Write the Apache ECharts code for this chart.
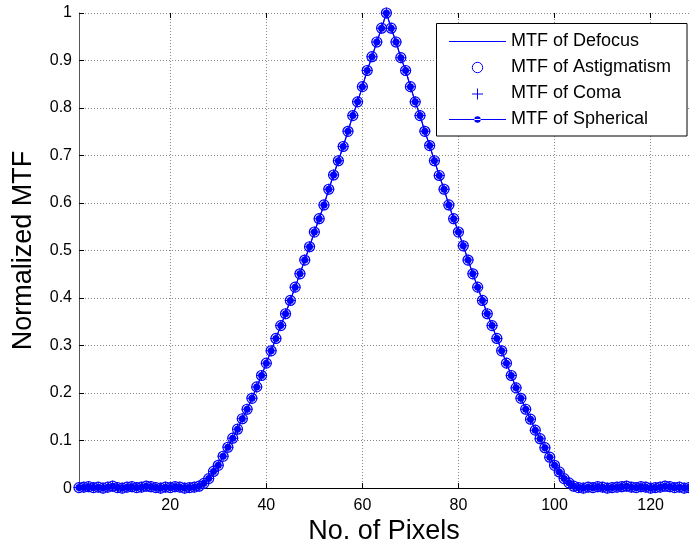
<!DOCTYPE html>
<html>
<head>
<meta charset="utf-8">
<script src="https://cdn.jsdelivr.net/npm/echarts@6/dist/echarts.min.js"></script>
<style>
  html, body { margin: 0; padding: 0; background: #fff; }
  #chart { width: 689px; height: 550px; }
</style>
</head>
<body>
<div id="chart"></div>
<script>
// normalized MTF per pixel (1..128)
const mtfDefocus = [
  0.001, 0.002, 0.003, 0.001, 0.002, 0.000, 0.002, 0.004, 0.001, 0.000,
  0.002, 0.003, 0.001, 0.002, 0.004, 0.003, 0.001, 0.000, 0.002, 0.001,
  0.003, 0.002, 0.000, 0.001, 0.002,
  0.004, 0.010, 0.020, 0.035, 0.048, 0.067, 0.086, 0.105, 0.124, 0.146,
  0.166, 0.189, 0.213, 0.237, 0.263, 0.289, 0.315, 0.342, 0.367, 0.395,
  0.423, 0.451, 0.480, 0.508, 0.539, 0.567, 0.596, 0.629, 0.659, 0.689,
  0.719, 0.751, 0.784, 0.813, 0.845, 0.879, 0.908, 0.939, 0.968, 1.000,
  0.968, 0.939, 0.906, 0.879, 0.845, 0.813, 0.784, 0.751, 0.721, 0.689,
  0.658, 0.629, 0.596, 0.567, 0.539, 0.510, 0.480, 0.451, 0.423, 0.395,
  0.367, 0.342, 0.315, 0.289, 0.263, 0.237, 0.211, 0.189, 0.166, 0.145,
  0.122, 0.104, 0.085, 0.065, 0.048, 0.034, 0.020, 0.011, 0.004,
  0.001, 0.000, 0.002, 0.001, 0.003, 0.002, 0.000, 0.001, 0.002, 0.003,
  0.004, 0.002, 0.001, 0.003, 0.002, 0.000, 0.001, 0.002, 0.004, 0.003,
  0.001, 0.002, 0.000, 0.001
];
// the other three curves coincide with defocus in the figure
const mtfAstigmatism = mtfDefocus.slice();
const mtfComa = mtfDefocus.slice();
const mtfSpherical = mtfDefocus.slice();

const pixels = mtfDefocus.map((_, i) => i + 1);
const xTicks = [20, 40, 60, 80, 100, 120];
const seriesNames = ['MTF of Defocus', 'MTF of Astigmatism', 'MTF of Coma', 'MTF of Spherical'];

const BLUE = '#0000ff';
const FONT = '"Liberation Sans", Arial, sans-serif';
const PLUS = 'path://M5,0h1v5h5v1h-5v5h-1v-5h-5v-1h5z';
// legend glyphs, the leading moves pin each box to 57x13
const LINE_ICON = 'path://M0,0M57,13M0,6h57v1h-57z';
const LINE_DOT = 'path://M0,0M57,13M0,6h57v1h-57zM25.3,6.5a3.2,3.2 0 1 0 6.4,0a3.2,3.2 0 1 0 -6.4,0z';
const PLUS_ICON = 'path://M0,0M57,13M28,1.5h1v5h5v1h-5v5h-1v-5h-5v-1h5z';

const pairs = vals => pixels.map((p, i) => [p, vals[i]]);

const chart = echarts.init(document.getElementById('chart'));

chart.setOption({
  backgroundColor: '#fff',
  animation: false,
  grid: { left: 79, right: 0, top: 13, bottom: 57 },
  legend: {
    orient: 'vertical',
    left: 436.5,
    top: 23.5,
    padding: [9, 16, 7.5, 11.5],
    itemGap: 8,
    itemWidth: 57,
    itemHeight: 13,
    backgroundColor: '#fff',
    borderColor: '#000',
    borderWidth: 1,
    textStyle: { fontFamily: FONT, fontSize: 18, lineHeight: 18, color: '#000' },
    data: [
      { name: seriesNames[0], icon: LINE_ICON, itemStyle: { color: BLUE } },
      { name: seriesNames[1], itemStyle: { color: 'transparent', borderColor: BLUE, borderWidth: 1 } },
      { name: seriesNames[2], icon: PLUS_ICON, itemStyle: { color: BLUE } },
      { name: seriesNames[3], icon: LINE_DOT, itemStyle: { color: BLUE } }
    ]
  },
  xAxis: [
    {
      type: 'value',
      min: 1,
      max: 128,
      name: 'No. of Pixels',
      nameLocation: 'middle',
      nameGap: 28,
      nameTextStyle: { fontFamily: FONT, fontSize: 27, color: '#000' },
      axisLine: { lineStyle: { color: '#000', width: 1 } },
      axisTick: { inside: true, length: 5, customValues: xTicks, lineStyle: { color: '#000' } },
      axisLabel: { customValues: xTicks, fontFamily: FONT, fontSize: 16, color: '#000', margin: 9 },
      splitLine: { show: true, lineStyle: { color: '#888', type: [1, 2], width: 1 } }
    },
    {
      type: 'value',
      position: 'top',
      min: 1,
      max: 128,
      axisLine: { show: false },
      axisTick: { inside: true, length: 5, customValues: xTicks, lineStyle: { color: '#000' } },
      axisLabel: { show: false },
      splitLine: { show: false }
    }
  ],
  yAxis: {
    type: 'value',
    min: 0,
    max: 1,
    interval: 0.1,
    name: 'Normalized MTF',
    nameLocation: 'middle',
    nameGap: 42,
    nameTextStyle: { fontFamily: FONT, fontSize: 27, color: '#000' },
    axisLine: { show: true, lineStyle: { color: '#555', width: 1 } },
    axisTick: { show: true, inside: true, length: 5, lineStyle: { color: '#000' } },
    axisLabel: { fontFamily: FONT, fontSize: 16, color: '#000', margin: 7 },
    splitLine: { show: true, lineStyle: { color: '#888', type: [1, 2], width: 1 } }
  },
  series: [
    {
      name: seriesNames[0],
      type: 'line',
      data: pairs(mtfDefocus),
      symbol: 'none',
      lineStyle: { color: BLUE, width: 1 },
      itemStyle: { color: BLUE }
    },
    {
      name: seriesNames[1],
      type: 'line',
      data: pairs(mtfAstigmatism),
      symbol: 'circle',
      symbolSize: 10,
      lineStyle: { opacity: 0 },
      itemStyle: { color: 'transparent', borderColor: BLUE, borderWidth: 1.2 }
    },
    {
      name: seriesNames[2],
      type: 'line',
      data: pairs(mtfComa),
      symbol: PLUS,
      symbolSize: 11,
      lineStyle: { opacity: 0 },
      itemStyle: { color: BLUE }
    },
    {
      name: seriesNames[3],
      type: 'line',
      data: pairs(mtfSpherical),
      symbol: 'circle',
      symbolSize: 7,
      lineStyle: { color: BLUE, width: 1.2 },
      itemStyle: { color: BLUE }
    }
  ]
});
</script>
</body>
</html>
